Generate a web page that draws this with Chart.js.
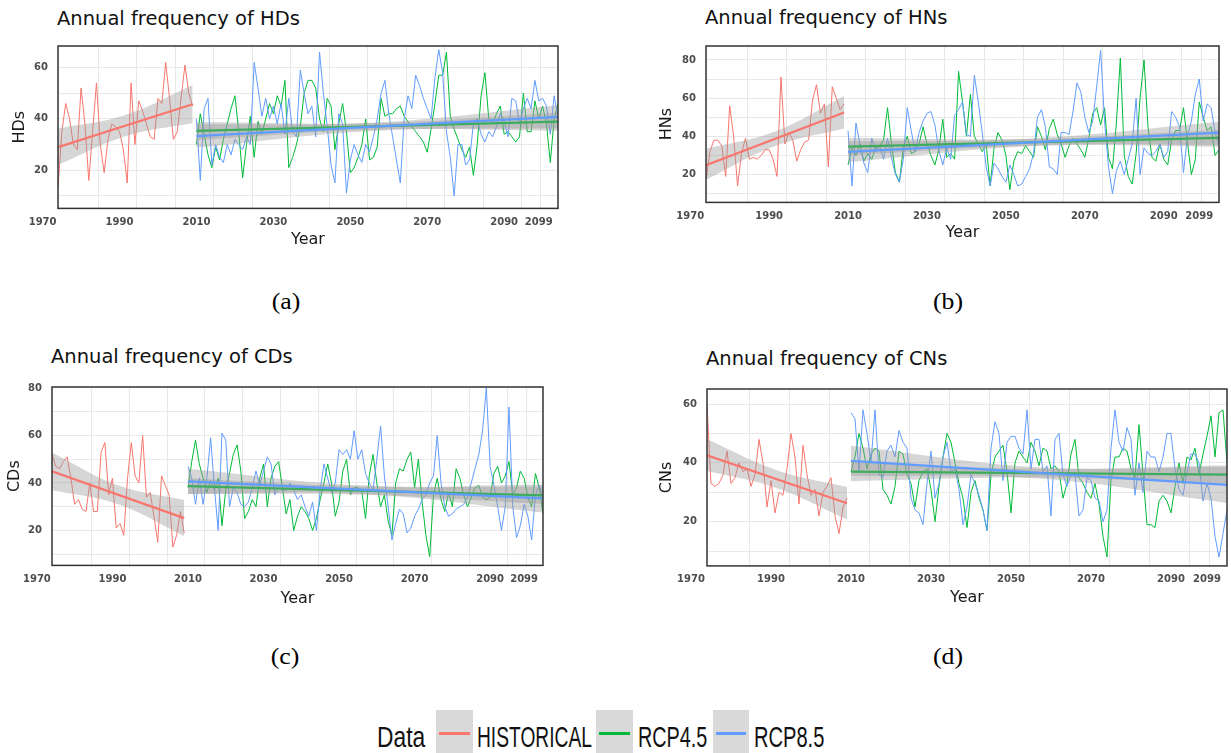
<!DOCTYPE html>
<html><head><meta charset="utf-8">
<script src="https://cdn.jsdelivr.net/npm/chart.js@4.4.1/dist/chart.umd.min.js"></script>
<style>
html,body{margin:0;padding:0;background:#fff;}
body{width:1231px;height:753px;position:relative;overflow:hidden;font-family:'DejaVu Sans',sans-serif;}
canvas{position:absolute;}
.ttl{position:absolute;font-family:'DejaVu Sans';font-size:19.5px;line-height:1;color:#111;white-space:nowrap;}
.cap{position:absolute;font-family:'Liberation Serif';font-size:23px;line-height:1;color:#000;width:60px;text-align:center;transform:scaleX(1.12);transform-origin:center top;}
.lg{position:absolute;font-family:'Liberation Sans';font-size:30px;line-height:1;color:#111;white-space:nowrap;transform-origin:left top;}
.key{position:absolute;top:710px;height:43px;background:#d9d9d9;}
.key i{position:absolute;left:3px;right:3px;top:21.5px;height:3px;}
</style></head><body>
<div class="ttl" style="left:57px;top:8.5px">Annual frequency of HDs</div>
<div class="ttl" style="left:705px;top:8px">Annual frequency of HNs</div>
<div class="ttl" style="left:51px;top:347px">Annual frequency of CDs</div>
<div class="ttl" style="left:706px;top:348.5px">Annual frequency of CNs</div>
<canvas id="pa"></canvas><canvas id="pb"></canvas><canvas id="pc"></canvas><canvas id="pd"></canvas>
<div class="cap" style="left:255.5px;top:289.5px">(a)</div>
<div class="cap" style="left:917.5px;top:289.5px">(b)</div>
<div class="cap" style="left:254.5px;top:644.5px">(c)</div>
<div class="cap" style="left:917.5px;top:644.5px">(d)</div>
<div class="lg" style="left:377px;top:721.6px;transform:scaleX(0.76)">Data</div>
<div class="key" style="left:436px;width:37px"><i style="background:#F8766D"></i></div>
<div class="lg" style="left:477px;top:721.6px;transform:scaleX(0.64)">HISTORICAL</div>
<div class="key" style="left:596px;width:37px"><i style="background:#00BA38"></i></div>
<div class="lg" style="left:638px;top:721.6px;transform:scaleX(0.66)">RCP4.5</div>
<div class="key" style="left:713px;width:36px"><i style="background:#619CFF"></i></div>
<div class="lg" style="left:754px;top:721.6px;transform:scaleX(0.67)">RCP8.5</div>
<script>
// ---------- categories ----------
const histYears = [1974,1975,1976,1977,1978,1979,1980,1981,1982,1983,1984,1985,1986,1987,1988,1989,1990,1991,1992,1993,1994,1995,1996,1997,1998,1999,2000,2001,2002,2003,2004,2005,2006,2007,2008,2009];
const futYears = [2010,2011,2012,2013,2014,2015,2016,2017,2018,2019,2020,2021,2022,2023,2024,2025,2026,2027,2028,2029,2030,2031,2032,2033,2034,2035,2036,2037,2038,2039,2040,2041,2042,2043,2044,2045,2046,2047,2048,2049,2050,2051,2052,2053,2054,2055,2056,2057,2058,2059,2060,2061,2062,2063,2064,2065,2066,2067,2068,2069,2070,2071,2072,2073,2074,2075,2076,2077,2078,2079,2080,2081,2082,2083,2084,2085,2086,2087,2088,2089,2090,2091,2092,2093,2094,2095,2096,2097,2098,2099,2100,2101,2102,2103,2104];
const histSpan = [1974, 1991.5, 2009];
const futSpan = [2010, 2057, 2104];
const xLabelYears = [1970,1990,2010,2030,2050,2070,2090,2099];
const xGridYears = [1984.5,1994.5,2004.5,2014.5,2024.5,2034.5,2044.5,2054.5,2064.5,2074.5,2084.5,2094.5,2099.5];

// ---------- (a) HDs ----------
const hdHist = [13,35,46,40,30,28,52,38,16,35,54,30,19,32,38,37,35,28,15,54,30,47,43,38,33,32,48,46,62,48,32,35,48,61,50,45];
const hdRcp45 = [30,42,34,26,21,29,24,32,38,44,49,35,17,30,41,25,39,34,40,46,42,49,45,55,21,25,30,37,50,55,55,52,40,35,48,45,28,38,46,35,19,21,25,30,40,24,25,29,48,41,42,42,44,45,41,39,37,35,33,31,27,36,46,57,57,66,41,36,32,28,25,29,18,30,49,58,40,38,42,45,34,35,33,31,33,50,35,35,47,40,45,38,23,40,46];
const hdRcp85 = [40,16,44,48,22,30,25,23,30,26,32,30,28,33,30,62,52,41,48,40,45,38,46,34,48,35,33,59,50,42,45,33,66,50,37,22,15,42,38,11,24,30,26,23,30,27,33,40,50,55,42,33,24,15,40,49,44,57,53,48,44,40,56,67,58,35,25,10,30,30,22,24,38,40,34,31,35,33,37,42,39,33,48,47,38,44,48,44,55,47,48,45,34,49,40];
const hdTrend = [[29.0,45.7],[35.3,38.9],[33.3,40.8]];
const hdBandHi = [[36.2,41.5,53.2],[38.8,38.4,42.4],[37.8,38.6,45.3]];
const hdBandLo = [[22.0,33.2,38.4],[31.8,35.8,35.4],[28.8,35.4,36.3]];
const hdTicks = [10,20,30,40,50,60];

// ---------- (b) HNs ----------
const hnHist = [17,32,38,38,35,19,56,40,14,31,39,28,29,28,30,33,33,28,19,71,36,42,38,27,33,37,38,59,67,52,57,24,66,60,54,57];
const hnRcp45 = [25,34,30,36,27,31,28,34,35,38,55,36,21,16,34,40,31,32,36,45,36,30,25,33,49,29,31,28,74,58,40,62,40,36,32,36,14,34,42,38,30,12,27,32,31,35,32,29,45,40,33,44,49,41,36,29,35,39,36,33,29,39,52,55,46,55,29,23,47,81,30,19,15,31,60,80,45,29,27,36,28,25,38,43,43,55,37,20,28,58,50,43,45,30,33];
const hnRcp85 = [43,14,47,36,26,21,39,32,35,28,39,29,20,16,28,55,43,32,42,48,52,53,46,33,25,34,28,51,54,58,41,40,72,58,42,24,14,26,23,19,16,25,20,14,15,19,23,31,50,54,45,24,23,20,42,42,41,53,68,63,50,42,48,66,85,48,24,10,22,27,20,28,36,60,20,34,31,30,32,36,29,32,53,50,45,21,40,48,62,70,48,57,55,42,36];
const hnTrend = [[24.9,52.5],[34.6,39.2],[31.9,41.9]];
const hnBandHi = [[33.5,42.5,61.1],[39.1,38.7,43.5],[37.4,38.9,47.6]];
const hnBandLo = [[17.2,34.9,44.1],[30.1,35.1,34.5],[26.4,34.9,35.5]];
const hnTicks = [10,20,30,40,50,60,70,80];

// ---------- (c) CDs ----------
const cdHist = [52,47,46,49,51,42,31,33,29,28,40,28,28,53,57,35,42,21,23,18,42,57,43,40,60,34,36,26,15,43,39,35,13,18,28,19];
const cdRcp45 = [38,49,58,48,42,36,41,37,42,22,37,44,52,56,45,25,28,33,30,42,48,30,42,47,49,38,27,33,20,26,30,28,25,20,25,33,40,48,40,26,32,45,50,35,38,38,37,25,43,52,40,30,35,24,18,40,46,45,50,53,38,50,32,18,9,35,42,33,28,36,30,46,42,35,30,34,38,39,34,33,34,44,47,40,43,49,35,38,45,42,34,30,44,38,27];
const cdRcp85 = [47,42,31,42,31,42,59,38,20,61,58,30,38,36,31,30,32,38,45,39,45,51,48,35,38,37,37,40,37,33,35,30,26,32,20,37,48,42,36,40,54,52,54,50,62,50,54,44,40,37,50,64,43,30,16,23,29,27,19,21,26,29,33,35,40,43,60,40,30,26,27,29,30,31,34,40,46,52,62,80,47,39,30,20,30,72,30,17,22,31,26,16,35,39,34];
const cdTrend = [[44.9,25.2],[38.7,34.8],[40.7,33.5]];
const cdBandHi = [[52.8,39.0,32.8],[42.0,38.5,38.5],[46.0,38.9,39.4]];
const cdBandLo = [[37.0,31.0,17.6],[35.4,35.0,31.1],[35.4,35.3,27.6]];
const cdTicks = [10,20,30,40,50,60,70,80];

// ---------- (d) CNs ----------
const cnHist = [60,33,32,33,36,44,33,35,40,37,38,32,36,48,40,25,34,23,30,29,38,50,42,26,46,36,29,31,22,30,32,35,22,16,25,28];
const cnRcp45 = [37,42,50,45,38,43,45,44,31,29,26,32,44,43,36,33,25,34,37,38,31,20,32,42,50,47,40,33,28,18,30,34,28,24,17,36,42,44,46,37,23,40,44,42,40,47,44,39,45,44,38,39,37,28,33,43,48,35,33,30,28,33,26,15,8,34,42,42,45,44,38,35,53,36,19,19,18,27,29,27,23,32,40,33,42,41,45,36,43,49,56,42,57,58,40];
const cnRcp85 = [57,55,37,58,50,40,58,36,35,44,46,42,51,47,45,28,24,23,19,33,44,28,33,42,47,37,38,31,19,25,36,33,29,24,17,45,54,50,34,47,49,49,45,43,58,38,48,48,37,39,22,48,50,36,32,36,36,22,24,35,34,28,27,20,24,45,58,47,44,52,48,29,40,30,44,42,42,37,42,50,50,38,31,29,37,43,43,40,27,33,28,15,8,16,24];
const cnTrend = [[42.6,26.3],[37.0,36.0],[40.7,32.5]];
const cnBandHi = [[48.0,37.5,31.8],[40.2,38.0,39.2],[45.8,38.5,38.6]];
const cnBandLo = [[37.2,31.4,20.8],[33.8,35.0,32.8],[35.6,34.7,26.4]];
const cnTicks = [10,20,30,40,50,60];

// ---------- styling ----------
const COLORS = ['#F8766D', '#00BA38', '#619CFF'];
const BAND = 'rgba(153,153,153,0.4)';
const GRID = '#e8e8e8';
const TICKC = '#4d4d4d';
const xTicks = xLabelYears.concat(xGridYears).sort((a, b) => a - b);

const framePlugin = {
  id: 'frame',
  afterDatasetsDraw(chart) {
    const {ctx, chartArea: a} = chart;
    ctx.save();
    ctx.strokeStyle = '#333';
    ctx.lineWidth = 1.5;
    ctx.strokeRect(a.left, a.top, a.right - a.left, a.bottom - a.top);
    ctx.restore();
  }
};

function makePanel(id, series, trend, bandHi, bandLo, yTicks, yTitle, yMin, yMax, box, xh, yPad) {
  const [L, T, R, B] = box;
  const yw = 50, pTop = 5, pRight = 4;
  const cv = document.getElementById(id);
  const left = L - yw, top = T - pTop;
  cv.width = R + pRight - left;
  cv.height = (B - T) + pTop + xh;
  cv.style.left = left + 'px';
  cv.style.top = top + 'px';

  const ds = [];
  series.forEach((vals, k) => {
    const yrs = k === 0 ? histYears : futYears;
    ds.push({
      data: yrs.map((x, i) => ({x: x, y: vals[i]})),
      borderColor: COLORS[k], borderWidth: 1, pointRadius: 0, fill: false, tension: 0, order: 20 - k
    });
  });
  [0, 1, 2].forEach(k => {
    const xs = k === 0 ? histSpan : futSpan;
    const iHi = ds.length;
    ds.push({
      data: xs.map((x, i) => ({x: x, y: bandHi[k][i]})),
      borderColor: 'rgba(0,0,0,0)', borderWidth: 0, pointRadius: 0, tension: 0.4, fill: false, order: 10 - 3 * k
    });
    ds.push({
      data: xs.map((x, i) => ({x: x, y: bandLo[k][i]})),
      borderColor: 'rgba(0,0,0,0)', borderWidth: 0, pointRadius: 0, tension: 0.4,
      fill: iHi, backgroundColor: BAND, order: 10 - 3 * k
    });
    ds.push({
      data: [{x: xs[0], y: trend[k][0]}, {x: xs[2], y: trend[k][1]}],
      borderColor: COLORS[k], borderWidth: 2.2, pointRadius: 0, fill: false, order: 9 - 3 * k
    });
  });

  new Chart(cv, {
    type: 'line',
    data: {datasets: ds},
    plugins: [framePlugin],
    options: {
      responsive: false, animation: false, devicePixelRatio: 1, events: [],
      layout: {padding: {left: 0, top: pTop, right: pRight, bottom: 0}},
      plugins: {legend: {display: false}, tooltip: {enabled: false}, title: {display: false}},
      scales: {
        x: {
          type: 'linear', min: 1974, max: 2104, bounds: 'data',
          afterBuildTicks: s => { s.ticks = xTicks.map(v => ({value: v})); },
          afterFit: s => { s.height = xh; },
          grid: {
            drawTicks: false, lineWidth: 1,
            color: c => (c.tick && xLabelYears.includes(c.tick.value)) ? 'rgba(0,0,0,0)' : GRID
          },
          border: {display: false},
          ticks: {
            autoSkip: false, maxRotation: 0, minRotation: 0, padding: 8, color: TICKC,
            font: {family: 'DejaVu Sans', size: 10, weight: 'bold'},
            callback: v => xLabelYears.includes(v) ? String(v) : ''
          },
          title: {display: true, text: 'Year', color: '#1a1a1a', font: {family: 'DejaVu Sans', size: 16}, padding: {top: 0, bottom: 0}}
        },
        y: {
          type: 'linear', min: yMin, max: yMax, bounds: 'data',
          afterBuildTicks: s => { s.ticks = yTicks.map(v => ({value: v})); },
          afterFit: s => { s.width = yw; },
          grid: {drawTicks: false, lineWidth: 1, color: GRID},
          border: {display: false},
          ticks: {
            padding: 10, color: TICKC, font: {family: 'DejaVu Sans', size: 10, weight: 'bold'},
            callback: v => (v % 20 === 0) ? String(v) : ''
          },
          title: {display: true, text: yTitle, color: '#1a1a1a', font: {family: 'DejaVu Sans', size: 16}, padding: {top: yPad, bottom: 0}}
        }
      }
    }
  });
}

makePanel('pa', [hdHist, hdRcp45, hdRcp85], hdTrend, hdBandHi, hdBandLo, hdTicks, 'HDs', 5.1, 68.4, [58, 35, 558, 209], 40.6, 1.9);
makePanel('pb', [hnHist, hnRcp45, hnRcp85], hnTrend, hnBandHi, hnBandLo, hnTicks, 'HNs', 5.4, 87.3, [706, 35, 1219, 203], 39.6, 1.4);
makePanel('pc', [cdHist, cdRcp45, cdRcp85], cdTrend, cdBandHi, cdBandLo, cdTicks, 'CDs', 5.3, 80.4, [52, 376, 543, 566], 42.6, 2.9);
makePanel('pd', [cnHist, cnRcp45, cnRcp85], cnTrend, cnBandHi, cnBandLo, cnTicks, 'CNs', 5.0, 65.1, [707, 378, 1227, 566], 41.1, 0.4);
</script>
</body></html>
